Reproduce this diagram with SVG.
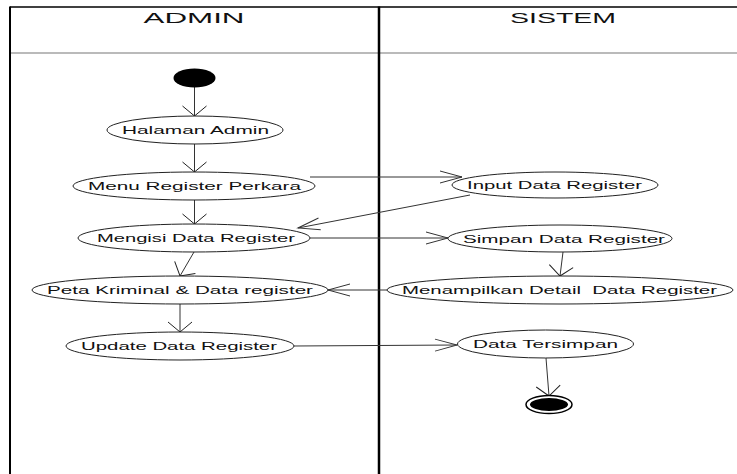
<svg xmlns="http://www.w3.org/2000/svg" width="737" height="474" viewBox="0 0 737 474">
  <style>
    .lane { stroke: #000; fill: none; }
    .head { font-family: "Liberation Sans", Arial, sans-serif; font-size: 15px; fill: #111; }
    .act ellipse { fill: #fff; stroke: #222; stroke-width: 1; }
    .act text { font-family: "Liberation Sans", Arial, sans-serif; font-size: 11.5px; fill: #111; }
    .flow line { stroke: #333; stroke-width: 1; fill: none; }
    .wide { marker-end: url(#wideHead); }
    .thin { marker-end: url(#thinHead); }
  </style>
  <defs>
    <marker id="wideHead" markerUnits="userSpaceOnUse" orient="auto" overflow="visible" markerWidth="1" markerHeight="1" refX="0" refY="0">
      <path d="M-10,-12 L0,0 L-10,12" fill="none" stroke="#222" stroke-width="1"/>
    </marker>
    <marker id="thinHead" markerUnits="userSpaceOnUse" orient="auto" overflow="visible" markerWidth="1" markerHeight="1" refX="0" refY="0">
      <path d="M-22,-6 L0,0 L-22,6" fill="none" stroke="#333" stroke-width="1"/>
    </marker>
  </defs>
  <rect width="737" height="474" fill="#fff"/>

  <!-- swimlanes -->
  <g id="lanes">
    <line class="lane" x1="10" y1="7" x2="737" y2="7" stroke-width="1.5"/>
    <line x1="10" y1="53" x2="737" y2="53" stroke="#777" stroke-width="1.2"/>
    <line class="lane" x1="10" y1="6.5" x2="10" y2="474" stroke-width="2"/>
    <line class="lane" x1="379" y1="6.5" x2="379" y2="474" stroke-width="2.5"/>
    <text class="head" x="143.5" y="23" textLength="101" lengthAdjust="spacingAndGlyphs">ADMIN</text>
    <text class="head" x="510" y="23" textLength="106" lengthAdjust="spacingAndGlyphs">SISTEM</text>
  </g>

  <!-- connectors -->
  <g id="connectors" class="flow">
    <line class="wide" x1="194.5" y1="87" x2="194.5" y2="116"/>
    <line class="wide" x1="194.5" y1="144" x2="194.5" y2="172"/>
    <line class="wide" x1="194.5" y1="200" x2="194.5" y2="224"/>
    <line class="wide" x1="194" y1="252" x2="180" y2="276"/>
    <line class="wide" x1="180" y1="304" x2="180" y2="332"/>
    <line class="thin" x1="310" y1="177" x2="462" y2="177"/>
    <line class="thin" x1="470" y1="195" x2="298" y2="228"/>
    <line class="thin" x1="310" y1="238" x2="448" y2="238"/>
    <line class="wide" x1="563" y1="252" x2="560" y2="276"/>
    <line class="thin" x1="387" y1="290" x2="328" y2="290"/>
    <line class="thin" x1="294" y1="346" x2="457" y2="345"/>
    <line class="wide" x1="546" y1="358" x2="549" y2="396"/>
  </g>

  <!-- start / end -->
  <g id="start">
    <ellipse cx="194.5" cy="78" rx="21" ry="9.5" fill="#000"/>
  </g>
  <g id="end">
    <ellipse cx="549" cy="404.5" rx="23" ry="9" fill="#fff" stroke="#000" stroke-width="1.5"/>
    <ellipse cx="549" cy="404.5" rx="19" ry="6.5" fill="#000"/>
  </g>

  <!-- admin activities -->
  <g id="halaman-admin" class="act">
    <ellipse cx="195" cy="130" rx="88" ry="14"/>
    <text x="122" y="134" textLength="147" lengthAdjust="spacingAndGlyphs">Halaman Admin</text>
  </g>
  <g id="menu-register-perkara" class="act">
    <ellipse cx="194" cy="186" rx="121" ry="14"/>
    <text x="88" y="190" textLength="213" lengthAdjust="spacingAndGlyphs">Menu Register Perkara</text>
  </g>
  <g id="mengisi-data-register" class="act">
    <ellipse cx="194" cy="238" rx="116" ry="14"/>
    <text x="97" y="242" textLength="198" lengthAdjust="spacingAndGlyphs">Mengisi Data Register</text>
  </g>
  <g id="peta-kriminal" class="act">
    <ellipse cx="180" cy="290" rx="148" ry="14"/>
    <text x="47" y="294" textLength="266" lengthAdjust="spacingAndGlyphs">Peta Kriminal &amp; Data register</text>
  </g>
  <g id="update-data-register" class="act">
    <ellipse cx="180" cy="346" rx="114" ry="14"/>
    <text x="81" y="350" textLength="196" lengthAdjust="spacingAndGlyphs">Update Data Register</text>
  </g>

  <!-- system activities -->
  <g id="input-data-register" class="act">
    <ellipse cx="555" cy="185" rx="103" ry="13"/>
    <text x="467" y="189" textLength="175" lengthAdjust="spacingAndGlyphs">Input Data Register</text>
  </g>
  <g id="simpan-data-register" class="act">
    <ellipse cx="560" cy="238.5" rx="112" ry="13.5"/>
    <text x="463" y="242.5" textLength="202" lengthAdjust="spacingAndGlyphs">Simpan Data Register</text>
  </g>
  <g id="menampilkan-detail" class="act">
    <ellipse cx="560" cy="290" rx="173" ry="14"/>
    <text x="402" y="294" textLength="315" lengthAdjust="spacingAndGlyphs" xml:space="preserve">Menampilkan Detail  Data Register</text>
  </g>
  <g id="data-tersimpan" class="act">
    <ellipse cx="545.5" cy="344" rx="88" ry="14"/>
    <text x="473" y="348" textLength="145" lengthAdjust="spacingAndGlyphs">Data Tersimpan</text>
  </g>
</svg>
